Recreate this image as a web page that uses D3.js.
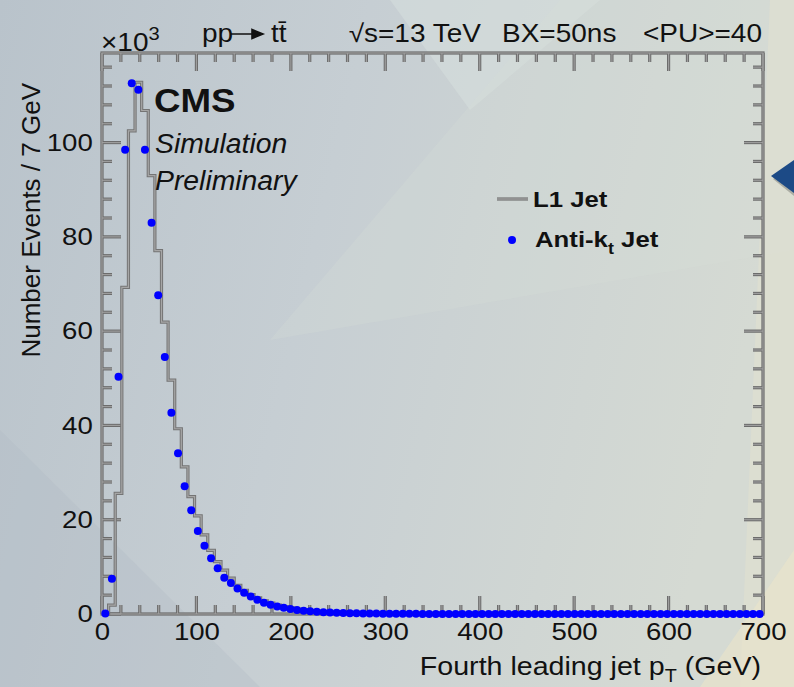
<!DOCTYPE html>
<html>
<head>
<meta charset="utf-8">
<script src="https://cdn.jsdelivr.net/npm/d3@7"></script>
<style>
  html, body { margin: 0; padding: 0; background: #c6cdd2; }
  svg { display: block; }
  text { font-family: "Liberation Sans", Arial, Helvetica, sans-serif; fill: #111; }
</style>
</head>
<body>
<script>
// bins of 7 GeV from 0 to 700, values in units of 10^3 events
const BIN_WIDTH = 7

const l1Jet = [
  0, 1.9, 25.6, 69.3, 102.5, 112.8, 106.8, 93.0, 77.1, 61.9,
  49.6, 39.3, 31.2, 24.9, 20.8, 16.8, 13.5, 11.1, 9.3, 7.6,
  6.1, 5.0, 4.1, 3.4, 2.8, 2.3, 1.9, 1.55, 1.3, 1.05,
  0.87, 0.71, 0.58, 0.48, 0.40, 0.33, 0.27, 0.22, 0.18, 0.15,
  0.13, 0.11, 0.09, 0.075, 0.065, 0.055, 0.045, 0.04, 0.035, 0.03,
  0.026, 0.022, 0.019, 0.016, 0.014, 0.012, 0.01, 0.009, 0.008, 0.007,
  0.006, 0.005, 0.005, 0.004, 0.004, 0.003, 0.003, 0.003, 0.002, 0.002,
  0.002, 0.002, 0.002, 0.001, 0.001, 0.001, 0.001, 0.001, 0.001, 0.001,
  0.001, 0.001, 0.001, 0.001, 0.001, 0.001, 0.001, 0.001, 0.001, 0.001,
  0.001, 0.001, 0.001, 0.001, 0.001, 0.001, 0.001, 0.001, 0.001, 0.001
]

const antiKtJet = [
  0.1, 7.5, 50.3, 98.5, 112.6, 111.2, 98.5, 83.0, 67.6, 54.5,
  42.7, 34.1, 27.1, 22.0, 17.6, 14.5, 11.8, 9.7, 7.7, 6.6,
  5.4, 4.5, 3.7, 3.0, 2.4, 1.95, 1.6, 1.3, 1.05, 0.86,
  0.70, 0.57, 0.47, 0.38, 0.31, 0.26, 0.21, 0.17, 0.14, 0.12,
  0.10, 0.08, 0.07, 0.06, 0.05, 0.04, 0.035, 0.03, 0.025, 0.02,
  0.02, 0.017, 0.015, 0.013, 0.011, 0.01, 0.009, 0.008, 0.007, 0.006,
  0.005, 0.005, 0.004, 0.004, 0.003, 0.003, 0.003, 0.002, 0.002, 0.002,
  0.002, 0.001, 0.001, 0.001, 0.001, 0.001, 0.001, 0.001, 0.001, 0.001,
  0.001, 0.001, 0.001, 0.001, 0.001, 0.001, 0.001, 0.001, 0.001, 0.001,
  0.001, 0.001, 0.001, 0.001, 0.001, 0.001, 0.001, 0.001, 0.001, 0.001
]

const xTicks = [0, 100, 200, 300, 400, 500, 600, 700]
const xTickLabels = ['0', '100', '200', '300', '400', '500', '600', '700']
const yTicks = [0, 20, 40, 60, 80, 100]
const yTickLabels = ['0', '20', '40', '60', '80', '100']

const W = 794, H = 687
const frame = { left: 102, right: 763, top: 53, bottom: 614 }

const x = d3.scaleLinear().domain([0, 700]).range([frame.left, frame.right])
const y = d3.scaleLinear().domain([0, 119]).range([frame.bottom, frame.top])

const xMinor = d3.range(20, 700, 20).filter(v => v % 100 !== 0)
const yMinor = d3.range(4, 119, 4).filter(v => v % 20 !== 0)

const svg = d3.select('body').append('svg')
  .attr('width', W)
  .attr('height', H)
  .attr('viewBox', `0 0 ${W} ${H}`)

// slide background
const defs = svg.append('defs')
const grad = defs.append('linearGradient').attr('id', 'bgGrad')
  .attr('x1', 0).attr('y1', 0).attr('x2', 1).attr('y2', 0.2)
grad.append('stop').attr('offset', 0).attr('stop-color', '#b9c3cb')
grad.append('stop').attr('offset', 0.45).attr('stop-color', '#c6ced3')
grad.append('stop').attr('offset', 1).attr('stop-color', '#d5dad3')

svg.append('rect').attr('width', W).attr('height', H).attr('fill', 'url(#bgGrad)')

const facets = [
  { pts: [[390, 0], [600, 0], [470, 110]], fill: '#d9e3e1', op: 0.45 },
  { pts: [[0, 430], [0, 687], [260, 687]], fill: '#aeb9c2', op: 0.3 },
  { pts: [[270, 340], [560, 0], [794, 0], [794, 250]], fill: '#d9ded7', op: 0.25 },
  { pts: [[770, 0], [794, 0], [794, 687], [740, 687]], fill: '#e4e2cf', op: 0.5 },
  { pts: [[700, 687], [794, 550], [794, 687]], fill: '#ebe5ca', op: 0.6 }
]
svg.append('g').selectAll('polygon')
  .data(facets)
  .join('polygon')
  .attr('points', d => d.pts.map(p => p.join(',')).join(' '))
  .attr('fill', d => d.fill)
  .attr('opacity', d => d.op)

// navy arrow at the right edge
svg.append('polygon')
  .attr('points', '773,179 794,165 794,196')
  .attr('fill', '#000').attr('opacity', 0.22)
svg.append('polygon')
  .attr('points', '771,176 794,160 794,193')
  .attr('fill', '#1c4a86')

// frame + ticks on all four sides, drawn twice for the grey line with lighter core
function tickLines(g, values, pos, fixed, len, dir, vertical) {
  g.append('g').selectAll('line')
    .data(values)
    .join('line')
    .attr(vertical ? 'x1' : 'y1', d => pos(d))
    .attr(vertical ? 'x2' : 'y2', d => pos(d))
    .attr(vertical ? 'y1' : 'x1', fixed)
    .attr(vertical ? 'y2' : 'x2', fixed + dir * len)
}

function drawAxes(stroke, sw) {
  const g = svg.append('g')
    .attr('stroke', stroke)
    .attr('stroke-width', sw)
    .attr('fill', 'none')
  // bottom and top (x axis)
  tickLines(g, xTicks, x, frame.bottom, 18, -1, true)
  tickLines(g, xMinor, x, frame.bottom, 9, -1, true)
  tickLines(g, xTicks, x, frame.top, 18, 1, true)
  tickLines(g, xMinor, x, frame.top, 9, 1, true)
  // left and right (y axis)
  tickLines(g, yTicks, y, frame.left, 19, 1, false)
  tickLines(g, yMinor, y, frame.left, 10, 1, false)
  tickLines(g, yTicks, y, frame.right, 19, -1, false)
  tickLines(g, yMinor, y, frame.right, 10, -1, false)

  g.append('rect')
    .attr('x', frame.left).attr('y', frame.top)
    .attr('width', frame.right - frame.left)
    .attr('height', frame.bottom - frame.top)
}

drawAxes('#6c6c6c', 3.2)
drawAxes('#9d9d9d', 1.2)

// tick labels through d3 axes
svg.append('g')
  .attr('transform', `translate(0,${frame.bottom})`)
  .call(d3.axisBottom(x).tickValues(xTicks).tickSize(0).tickPadding(9)
    .tickFormat((d, i) => xTickLabels[i]))
  .call(a => a.select('.domain').remove())
  .call(a => a.selectAll('line').remove())
  .attr('font-size', null).attr('font-family', null)
  .selectAll('text')
  .style('font-size', '24px')
  .attr('transform', 'scale(1.15,1)')

svg.append('g')
  .attr('transform', `translate(${frame.left},0)`)
  .call(d3.axisLeft(y).tickValues(yTicks).tickSize(0).tickPadding(8)
    .tickFormat((d, i) => yTickLabels[i]))
  .call(a => a.select('.domain').remove())
  .call(a => a.selectAll('line').remove())
  .attr('font-size', null).attr('font-family', null)
  .selectAll('text')
  .style('font-size', '24px')
  .attr('transform', 'scale(1.15,1)')

// L1 jet histogram (step line)
const edges = l1Jet.map((v, i) => [i * BIN_WIDTH, v])
edges.push([l1Jet.length * BIN_WIDTH, l1Jet[l1Jet.length - 1]])

const stepLine = d3.line()
  .x(d => x(d[0]))
  .y(d => y(d[1]))
  .curve(d3.curveStepAfter)

svg.append('path')
  .datum(edges)
  .attr('d', stepLine)
  .attr('fill', 'none')
  .attr('stroke', '#747474')
  .attr('stroke-width', 3.2)
svg.append('path')
  .datum(edges)
  .attr('d', stepLine)
  .attr('fill', 'none')
  .attr('stroke', '#a6a6a6')
  .attr('stroke-width', 1.2)

// anti-kt markers at bin centres
svg.append('g')
  .selectAll('circle')
  .data(antiKtJet)
  .join('circle')
  .attr('cx', (d, i) => x(i * BIN_WIDTH + BIN_WIDTH / 2))
  .attr('cy', d => y(d))
  .attr('r', 4)
  .attr('fill', '#0000ff')

// text helper
function txt(px, py, sx, opts) {
  return svg.append('text')
    .attr('transform', `translate(${px},${py}) scale(${sx},1)`)
    .attr('text-anchor', opts.anchor || 'start')
    .style('font-size', opts.size + 'px')
    .style('font-weight', opts.weight || 'normal')
    .style('font-style', opts.style || 'normal')
}

// header
const exp = txt(101, 51, 1.12, { size: 25 })
exp.append('tspan').text('×10')
exp.append('tspan').attr('dy', -11).style('font-size', '18px').text('3')

txt(202, 42, 1.12, { size: 25 }).text('pp')
svg.append('path')
  .attr('d', 'M231,34 H258 M252,29.5 L263,34 L252,38.5 Z')
  .attr('stroke', '#111').attr('stroke-width', 1.6).attr('fill', '#111')
txt(271, 42, 1.12, { size: 25 }).text('tt̄')

txt(481, 42, 1.12, { size: 25, anchor: 'end' }).text('√s=13 TeV')
txt(502, 42, 1.12, { size: 25 }).text('BX=50ns')
txt(762, 42, 1.12, { size: 25, anchor: 'end' }).text('<PU>=40')

// CMS label
txt(154, 112, 1.08, { size: 34, weight: 'bold' }).text('CMS')
txt(155, 153, 1.05, { size: 27, style: 'italic' }).text('Simulation')
txt(155, 190, 1.05, { size: 27, style: 'italic' }).text('Preliminary')

// legend
svg.append('line')
  .attr('x1', 497).attr('x2', 528).attr('y1', 199).attr('y2', 199)
  .attr('stroke', '#747474').attr('stroke-width', 3.2)
svg.append('line')
  .attr('x1', 497).attr('x2', 528).attr('y1', 199).attr('y2', 199)
  .attr('stroke', '#a6a6a6').attr('stroke-width', 1.2)
txt(533, 207, 1.12, { size: 23, weight: 'bold' }).text('L1 Jet')

svg.append('circle').attr('cx', 512).attr('cy', 240).attr('r', 4).attr('fill', '#0000ff')
const ak = txt(535, 247, 1.12, { size: 23, weight: 'bold' })
ak.append('tspan').text('Anti-k')
ak.append('tspan').attr('dy', 7).style('font-size', '16px').text('t')
ak.append('tspan').attr('dy', -7).text(' Jet')

// axis titles
const xt = txt(761, 675, 1.1, { size: 26, anchor: 'end' })
xt.append('tspan').text('Fourth leading jet p')
xt.append('tspan').attr('dy', 7).style('font-size', '18px').text('T')
xt.append('tspan').attr('dy', -7).text(' (GeV)')

svg.append('text')
  .attr('transform', 'translate(40,83) rotate(-90)')
  .attr('text-anchor', 'end')
  .style('font-size', '26px')
  .text('Number Events / 7 GeV')
</script>
</body>
</html>
